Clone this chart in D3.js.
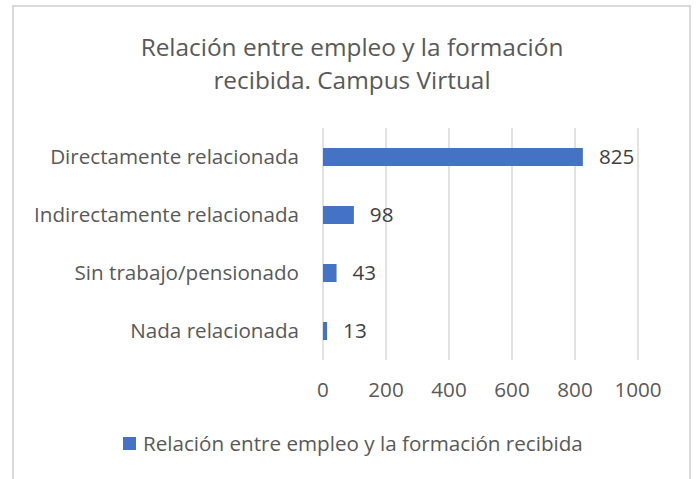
<!DOCTYPE html>
<html>
<head>
<meta charset="utf-8">
<script src="https://cdn.jsdelivr.net/npm/d3@7"></script>
<style>
  body { margin: 0; background: #fff; }
  text { font-family: "Open Sans", sans-serif; fill: #595959; }
</style>
</head>
<body>
<svg id="chart" width="696" height="479"></svg>
<script>
const categories = ["Directamente relacionada", "Indirectamente relacionada", "Sin trabajo/pensionado", "Nada relacionada"];
const values = [825, 98, 43, 13];
const ticks = [0, 200, 400, 600, 800, 1000];
const titleLines = ["Relación entre empleo y la formación", "recibida. Campus Virtual"];
const seriesName = "Relación entre empleo y la formación recibida";

const svg = d3.select("#chart");
const barColor = "#4472C4";

// font size that makes a sample string as wide as in the original
function fitSize(sample, width) {
  let t = svg.append("text").style("font-size", "20px").text(sample);
  let w = t.node().getComputedTextLength();
  t.remove();
  return 20 * width / w;
}
const titleSize = fitSize(titleLines[0], 423);
const labelSize = fitSize(categories[0], 249);

// chart border
svg.append("rect")
  .attr("x", 13).attr("y", 6)
  .attr("width", 677).attr("height", 500)
  .attr("fill", "none")
  .attr("stroke", "#d9d9d9")
  .attr("stroke-width", 2);

// title
svg.append("g").selectAll("text")
  .data(titleLines)
  .join("text")
  .attr("x", 352)
  .attr("y", (d, i) => 56 + i * 33)
  .attr("text-anchor", "middle")
  .style("font-size", titleSize + "px")
  .text(d => d);

const x = d3.scaleLinear().domain([0, 1000]).range([323, 638]);
const y = d3.scaleBand().domain(categories).range([128, 360])
  .paddingInner(0.69).paddingOuter(0.345);

// gridlines
svg.append("g").selectAll("line")
  .data(ticks)
  .join("line")
  .attr("x1", d => x(d)).attr("x2", d => x(d))
  .attr("y1", 128).attr("y2", 360)
  .attr("stroke", "#d9d9d9")
  .attr("stroke-width", 1.5);

// tick labels
svg.append("g").selectAll("text")
  .data(ticks)
  .join("text")
  .attr("x", d => x(d))
  .attr("y", 397)
  .attr("text-anchor", "middle")
  .style("font-size", labelSize + "px")
  .text(d => d);

// category labels
svg.append("g").selectAll("text")
  .data(categories)
  .join("text")
  .attr("x", 299)
  .attr("y", d => y(d) + y.bandwidth() / 2)
  .attr("dy", "0.35em")
  .attr("text-anchor", "end")
  .style("font-size", labelSize + "px")
  .text(d => d);

// bars
svg.append("g").selectAll("rect")
  .data(values)
  .join("rect")
  .attr("x", x(0))
  .attr("y", (d, i) => y(categories[i]))
  .attr("width", d => x(d) - x(0))
  .attr("height", y.bandwidth())
  .attr("fill", barColor);

// data labels
svg.append("g").selectAll("text")
  .data(values)
  .join("text")
  .attr("x", d => x(d) + 16)
  .attr("y", (d, i) => y(categories[i]) + y.bandwidth() / 2)
  .attr("dy", "0.35em")
  .style("font-size", labelSize + "px")
  .style("fill", "#404040")
  .text(d => d);

// legend
const legend = svg.append("g");
legend.append("rect")
  .attr("x", 123).attr("y", 437)
  .attr("width", 13).attr("height", 13)
  .attr("fill", barColor);
legend.append("text")
  .attr("x", 143).attr("y", 444)
  .attr("dy", "0.35em")
  .style("font-size", labelSize + "px")
  .text(seriesName);
</script>
</body>
</html>
